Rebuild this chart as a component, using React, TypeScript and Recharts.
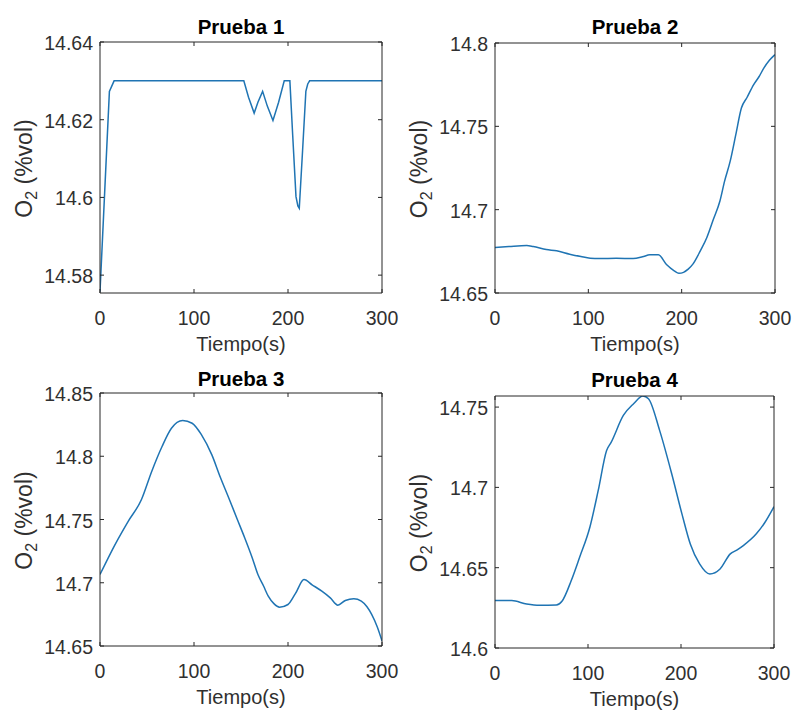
import React from 'react';
import { LineChart, Line, XAxis, YAxis } from 'recharts';

const FONT = '"Liberation Sans", Arial, Helvetica, sans-serif';
const AXIS = '#262626';
const TEXT = '#303030';
const LINE = '#1f74b3';

const TIME_TICKS = [0, 100, 200, 300];
const TITLES = ['Prueba 1', 'Prueba 2', 'Prueba 3', 'Prueba 4'];
const X_LABEL = 'Tiempo(s)';

// Prueba 1
const TIME_1 = [0, 5, 10, 15, 153, 158, 164, 168, 173, 178, 184, 190, 196, 202, 205, 208.5, 210.5, 212, 215.5, 219, 221, 223, 300];
const O2_1 = [14.5757, 14.6015, 14.6273, 14.63, 14.63, 14.6258, 14.6217, 14.6245, 14.6273, 14.6235, 14.6198, 14.6245, 14.63, 14.63, 14.616, 14.6002, 14.5978, 14.5972, 14.612, 14.6273, 14.6292, 14.63, 14.63];
const Y_TICKS_1 = [14.58, 14.6, 14.62, 14.64];
const Y_DOMAIN_1 = [14.5754, 14.64];

// Prueba 2
const TIME_2 = [0, 15, 34, 41, 55, 66, 80, 92, 102, 112, 130, 148, 158, 166, 175, 184, 192, 197, 202, 207, 212, 220, 227, 234, 241, 246, 252, 258, 264, 270, 277, 283, 288, 294, 300];
const O2_2 = [14.6773, 14.6779, 14.6785, 14.6779, 14.6761, 14.6753, 14.6733, 14.6719, 14.6709, 14.6707, 14.6708, 14.6707, 14.6717, 14.6729, 14.6729, 14.6669, 14.6633, 14.6618, 14.6624, 14.6643, 14.6673, 14.6753, 14.6833, 14.6942, 14.7052, 14.7171, 14.7291, 14.745, 14.761, 14.7673, 14.7749, 14.7799, 14.7849, 14.7896, 14.793];
const Y_TICKS_2 = [14.65, 14.7, 14.75, 14.8];
const Y_DOMAIN_2 = [14.65, 14.8];

// Prueba 3
const TIME_3 = [0, 16, 30, 44, 55, 66, 76, 88, 98, 108, 119, 128, 137, 146, 154, 162, 168, 174, 179, 185, 191, 200, 208, 217, 226, 236, 245, 253, 261, 270, 278, 284, 289, 295, 300];
const O2_3 = [14.7065, 14.7302, 14.7486, 14.7656, 14.788, 14.8077, 14.8221, 14.8282, 14.8261, 14.8169, 14.8011, 14.7834, 14.767, 14.7502, 14.7354, 14.7196, 14.7065, 14.6974, 14.6894, 14.6835, 14.6807, 14.6828, 14.6916, 14.7025, 14.6982, 14.6933, 14.688, 14.6823, 14.686, 14.6873, 14.6855, 14.681, 14.675, 14.665, 14.654];
const Y_TICKS_3 = [14.65, 14.7, 14.75, 14.8, 14.85];
const Y_DOMAIN_3 = [14.65, 14.85];

// Prueba 4
const TIME_4 = [0, 18, 34, 48, 66, 72, 82, 91, 102, 111, 120, 125, 138, 149, 159, 165, 177, 190, 201, 210, 220, 231, 242, 253, 260, 267, 281, 290, 300];
const O2_4 = [14.6295, 14.6295, 14.6274, 14.6266, 14.6268, 14.6291, 14.642, 14.6565, 14.6752, 14.6981, 14.723, 14.7282, 14.7448, 14.7521, 14.7569, 14.7552, 14.7355, 14.7085, 14.6835, 14.6648, 14.6524, 14.6461, 14.6492, 14.6586, 14.661, 14.6638, 14.6711, 14.678, 14.688];
const Y_TICKS_4 = [14.6, 14.65, 14.7, 14.75];
const Y_DOMAIN_4 = [14.6, 14.7569];

const BottomTick = (props: any) => {
  const { x, y, payload } = props;
  return (
    <g>
      <line x1={x} x2={x} y1={y} y2={y - 4} stroke={AXIS} strokeWidth={1} />
      <text x={x} y={y + 32} textAnchor="middle" fill={TEXT} fontFamily={FONT} style={{ fontSize: 19.5 }}>
        {String(payload.value)}
      </text>
    </g>
  );
};

const TopTick = (props: any) => {
  const { x, y } = props;
  return <line x1={x} x2={x} y1={y} y2={y + 4} stroke={AXIS} strokeWidth={1} />;
};

const LeftTick = (props: any) => {
  const { x, y, payload } = props;
  return (
    <g>
      <line x1={x} x2={x + 4} y1={y} y2={y} stroke={AXIS} strokeWidth={1} />
      <text x={x - 7} y={y + 8} textAnchor="end" fill={TEXT} fontFamily={FONT} style={{ fontSize: 19.5 }}>
        {String(payload.value)}
      </text>
    </g>
  );
};

const RightTick = (props: any) => {
  const { x, y } = props;
  return <line x1={x} x2={x - 4} y1={y} y2={y} stroke={AXIS} strokeWidth={1} />;
};

type PanelProps = {
  left: number;
  top: number;
  width: number;
  height: number;
  plotTop: number;
  marginRight: number;
  xAxisHeight: number;
  titleY: number;
  title: string;
  times: number[];
  values: number[];
  yDomain: number[];
  yTicks: number[];
  curve: 'linear' | 'monotone';
};

function Panel(p: PanelProps) {
  const data = p.times.map((t, i) => ({ t, v: p.values[i] }));

  const titleLabel = (props: any) => {
    const vb = props.viewBox || {};
    return (
      <text x={vb.x + vb.width / 2} y={p.titleY} textAnchor="middle" fontWeight="bold" fill="#000" fontFamily={FONT} style={{ fontSize: 20.5 }}>
        {p.title}
      </text>
    );
  };

  const xLabel = (props: any) => {
    const vb = props.viewBox || {};
    return (
      <text x={vb.x + vb.width / 2} y={vb.y + 58} textAnchor="middle" fill={TEXT} fontFamily={FONT} style={{ fontSize: 20 }}>
        {X_LABEL}
      </text>
    );
  };

  const yLabel = (props: any) => {
    const vb = props.viewBox || {};
    const cx = vb.x + 32;
    const cy = vb.y + vb.height / 2 + 1;
    return (
      <text transform={`translate(${cx},${cy}) rotate(-90)`} textAnchor="middle" fill={TEXT} fontFamily={FONT} style={{ fontSize: 23 }}>
        <tspan>O</tspan>
        <tspan dy={5} style={{ fontSize: 16 }}>2</tspan>
        <tspan dy={-5} style={{ fontSize: 23 }}>{'\u00A0(%vol)'}</tspan>
      </text>
    );
  };

  return (
    <div style={{ position: 'absolute', left: p.left, top: p.top }}>
      <LineChart
        width={p.width}
        height={p.height}
        data={data}
        margin={{ top: p.plotTop - 1, right: p.marginRight - 1, left: 0, bottom: 0 }}
      >
        <XAxis
          dataKey="t"
          type="number"
          domain={[0, 300]}
          ticks={TIME_TICKS}
          interval={0}
          height={p.xAxisHeight}
          tickSize={0}
          tickMargin={0}
          tickLine={false}
          tick={BottomTick}
          axisLine={{ stroke: AXIS, strokeWidth: 1 }}
          allowDataOverflow
          label={xLabel}
        />
        <XAxis
          xAxisId="top"
          orientation="top"
          dataKey="t"
          type="number"
          domain={[0, 300]}
          ticks={TIME_TICKS}
          interval={0}
          height={1}
          tickSize={0}
          tickMargin={0}
          tickLine={false}
          tick={TopTick}
          axisLine={{ stroke: AXIS, strokeWidth: 1 }}
          allowDataOverflow
          label={titleLabel}
        />
        <YAxis
          type="number"
          domain={p.yDomain}
          ticks={p.yTicks}
          interval={0}
          width={100}
          tickSize={0}
          tickMargin={0}
          tickLine={false}
          tick={LeftTick}
          axisLine={{ stroke: AXIS, strokeWidth: 1 }}
          allowDataOverflow
          label={yLabel}
        />
        <YAxis
          yAxisId="right"
          orientation="right"
          type="number"
          domain={p.yDomain}
          ticks={p.yTicks}
          interval={0}
          width={1}
          tickSize={0}
          tickMargin={0}
          tickLine={false}
          tick={RightTick}
          axisLine={{ stroke: AXIS, strokeWidth: 1 }}
          allowDataOverflow
        />
        <Line
          xAxisId="top"
          yAxisId="right"
          type={p.curve}
          dataKey="v"
          stroke="none"
          strokeOpacity={0}
          dot={false}
          activeDot={false}
          legendType="none"
          isAnimationActive={false}
        />
        <Line
          type={p.curve}
          dataKey="v"
          stroke={LINE}
          strokeWidth={1.5}
          dot={false}
          activeDot={false}
          isAnimationActive={false}
        />
      </LineChart>
    </div>
  );
}

export default function App() {
  return (
    <div
      style={{
        position: 'absolute',
        left: 0,
        top: 0,
        width: 793,
        height: 713,
        background: '#ffffff',
        overflow: 'hidden',
      }}
    >
      <Panel left={0} top={0} width={400} height={356} plotTop={42} marginRight={18} xAxisHeight={63} titleY={34}
        title={TITLES[0]} times={TIME_1} values={O2_1} yDomain={Y_DOMAIN_1} yTicks={Y_TICKS_1} curve="linear" />
      <Panel left={395} top={0} width={398} height={356} plotTop={43} marginRight={18} xAxisHeight={63} titleY={34}
        title={TITLES[1]} times={TIME_2} values={O2_2} yDomain={Y_DOMAIN_2} yTicks={Y_TICKS_2} curve="monotone" />
      <Panel left={0} top={356} width={400} height={357} plotTop={37} marginRight={18} xAxisHeight={67} titleY={30}
        title={TITLES[2]} times={TIME_3} values={O2_3} yDomain={Y_DOMAIN_3} yTicks={Y_TICKS_3} curve="monotone" />
      <Panel left={395} top={356} width={398} height={357} plotTop={40} marginRight={19} xAxisHeight={65} titleY={31}
        title={TITLES[3]} times={TIME_4} values={O2_4} yDomain={Y_DOMAIN_4} yTicks={Y_TICKS_4} curve="monotone" />
    </div>
  );
}
